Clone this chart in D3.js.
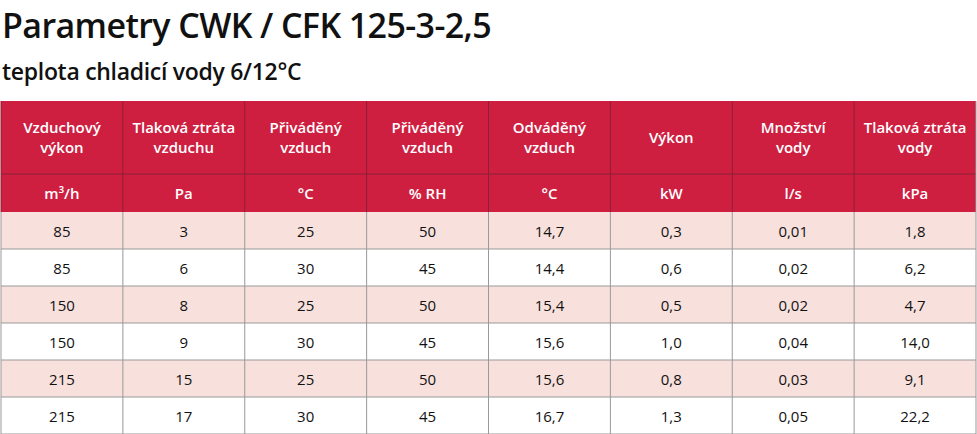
<!DOCTYPE html>
<html><head><meta charset="utf-8">
<script src="https://cdn.jsdelivr.net/npm/d3@7"></script>
<style>body{margin:0;background:#fff}</style>
</head><body><svg width="977" height="434"></svg>
<script>
const title = "Parametry CWK / CFK 125-3-2,5";
const subtitle = "teplota chladicí vody 6/12°C";
const headers = [["Vzduchový","výkon"],["Tlaková ztráta","vzduchu"],["Přiváděný","vzduch"],["Přiváděný","vzduch"],["Odváděný","vzduch"],["Výkon"],["Množství","vody"],["Tlaková ztráta","vody"]];
const units = ["m³/h","Pa","°C","% RH","°C","kW","l/s","kPa"];
const rows = [
  ["85","3","25","50","14,7","0,3","0,01","1,8"],
  ["85","6","30","45","14,4","0,6","0,02","6,2"],
  ["150","8","25","50","15,4","0,5","0,02","4,7"],
  ["150","9","30","45","15,6","1,0","0,04","14,0"],
  ["215","15","25","50","15,6","0,8","0,03","9,1"],
  ["215","17","30","45","16,7","1,3","0,05","22,2"]
];

const svg = d3.select("svg");
const font = "'Open Sans', sans-serif";
const red = "#cf1f41", pink = "#f8e1dd";
const x = d3.scaleBand().domain(d3.range(units.length)).range([1, 976]);
const tableTop = 101, h1 = 73, h2 = 38, rh = 37;
const y = d3.scaleBand().domain(d3.range(rows.length)).range([tableTop + h1 + h2, tableTop + h1 + h2 + rh * rows.length]);

svg.append("text").attr("x", 2).attr("y", 38).attr("font-family", font).attr("font-weight", 600)
  .attr("font-size", 34).attr("letter-spacing", -0.6).attr("fill", "#111").text(title);
svg.append("text").attr("x", 2).attr("y", 80).attr("font-family", font).attr("font-weight", 600)
  .attr("font-size", 23).attr("letter-spacing", -0.3).attr("fill", "#111").text(subtitle);

svg.append("rect").attr("x", 1).attr("y", tableTop).attr("width", 975).attr("height", h1 + h2).attr("fill", red);
svg.append("line").attr("x1", 1).attr("x2", 976).attr("y1", tableTop + h1).attr("y2", tableTop + h1).attr("stroke", "#8a2035");

svg.selectAll(".bg").data(rows).join("rect")
  .attr("x", 1).attr("width", 975).attr("y", (d, i) => y(i)).attr("height", rh)
  .attr("fill", (d, i) => i % 2 === 0 ? pink : "#fff");
svg.selectAll(".hl").data(rows).join("line")
  .attr("x1", 1).attr("x2", 976).attr("y1", (d, i) => y(i) + rh).attr("y2", (d, i) => y(i) + rh)
  .attr("stroke", "#999");

x.domain().forEach(c => {
  const cx = x(c);
  svg.append("line").attr("x1", cx).attr("x2", cx).attr("y1", tableTop).attr("y2", tableTop + h1 + h2).attr("stroke", "#8a2035");
  svg.append("line").attr("x1", cx).attr("x2", cx).attr("y1", tableTop + h1 + h2).attr("y2", 434).attr("stroke", "#999");
  const mx = cx + x.bandwidth() / 2;
  const lines = headers[c];
  const t = svg.append("text").attr("x", mx).attr("text-anchor", "middle").attr("font-family", font)
    .attr("font-weight", 600).attr("font-size", 15).attr("fill", "#fff");
  lines.forEach((l, k) => t.append("tspan").attr("x", mx)
    .attr("y", tableTop + h1 / 2 + 5 + (k - (lines.length - 1) / 2) * 20).text(l));
  svg.append("text").attr("x", mx).attr("y", tableTop + h1 + h2 / 2 + 6).attr("text-anchor", "middle")
    .attr("font-family", font).attr("font-weight", 600).attr("font-size", 15).attr("fill", "#fff").text(units[c]);
  rows.forEach((r, i) => svg.append("text").attr("x", mx).attr("y", y(i) + rh / 2 + 6).attr("text-anchor", "middle")
    .attr("font-family", font).attr("font-size", 15).attr("fill", "#111").text(r[c]));
});
svg.append("line").attr("x1", 976).attr("x2", 976).attr("y1", tableTop).attr("y2", 434).attr("stroke", "#999");
</script></body></html>
